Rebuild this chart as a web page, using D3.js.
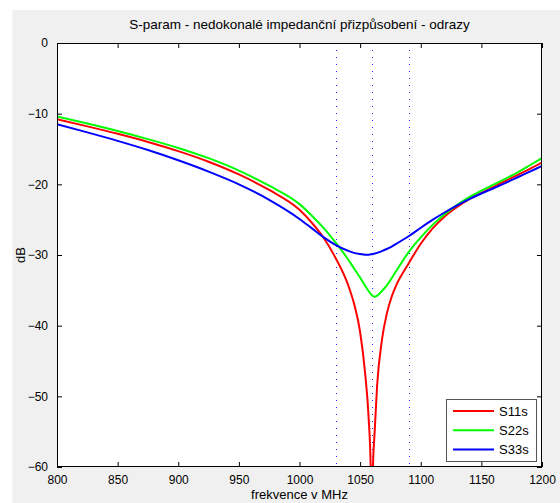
<!DOCTYPE html>
<html>
<head>
<meta charset="utf-8">
<script src="https://cdn.jsdelivr.net/npm/d3@7"></script>
<style>
  html, body { margin: 0; padding: 0; background: #ffffff; }
  svg { display: block; }
  text { font-family: "Liberation Sans", Arial, sans-serif; }
</style>
</head>
<body>
<svg id="chart" width="560" height="503"></svg>
<script>
// ---------- data ----------
const title = "S-param - nedokonalé impedanční přizpůsobení - odrazy";
const xLabel = "frekvence v MHz";
const yLabel = "dB";
const seriesNames = ["S11s", "S22s", "S33s"];
const seriesColors = ["#ff0000", "#00ff00", "#0000ff"];
const xTicks = [800, 850, 900, 950, 1000, 1050, 1100, 1150, 1200];
const yTicks = [0, -10, -20, -30, -40, -50, -60];
const markerFreqs = [1030, 1060, 1090];

const freq = [800, 825, 850, 875, 900, 925, 950, 975, 1000, 1010, 1020, 1030, 1040, 1045, 1050, 1054, 1057, 1058.7, 1059.6, 1060.6, 1062, 1064, 1068, 1072, 1076, 1080, 1090, 1100, 1110, 1120, 1130, 1140, 1150, 1160, 1170, 1180, 1190, 1200];
const s11 = [-10.8, -11.8, -12.85, -14.0, -15.3, -16.8, -18.6, -20.8, -23.6, -25.4, -27.6, -30.5, -34.2, -36.9, -40.9, -46.5, -53.0, -60, -75, -60, -55.0, -48.5, -42.0, -38.3, -35.9, -34.2, -31.2, -28.4, -26.2, -24.5, -23.2, -22.1, -21.2, -20.35, -19.5, -18.65, -17.8, -16.9];
const s22 = [-10.4, -11.4, -12.45, -13.6, -14.85, -16.3, -18.05, -20.2, -22.8, -24.4, -26.2, -28.3, -30.6, -31.9, -33.2, -34.3, -35.1, -35.5, -35.65, -35.8, -35.9, -35.75, -35.1, -34.3, -33.3, -32.2, -29.6, -27.5, -25.7, -24.2, -22.9, -21.8, -20.9, -20.05, -19.2, -18.3, -17.3, -16.3];
const s33 = [-11.5, -12.65, -13.85, -15.15, -16.6, -18.2, -20.0, -22.2, -24.9, -26.2, -27.5, -28.6, -29.4, -29.7, -29.85, -29.95, -29.95, -29.9, -29.88, -29.85, -29.8, -29.7, -29.45, -29.15, -28.8, -28.4, -27.35, -26.15, -25.0, -23.95, -22.98, -22.1, -21.3, -20.55, -19.8, -19.0, -18.2, -17.4];
const seriesValues = [s11, s22, s33];

// ---------- layout ----------
const W = 560, H = 503;
const plot = { left: 57, right: 542, top: 43, bottom: 467 };

const svg = d3.select("#chart");

// figure background
svg.append("rect").attr("x", 12.5).attr("y", 10).attr("width", W - 12.5).attr("height", H - 10).attr("fill", "#f0f0f0");

const x = d3.scaleLinear().domain([800, 1200]).range([plot.left, plot.right]);
const y = d3.scaleLinear().domain([-60, 0]).range([plot.bottom, plot.top]);

// plot area
svg.append("rect").attr("x", plot.left).attr("y", plot.top)
  .attr("width", plot.right - plot.left).attr("height", plot.bottom - plot.top)
  .attr("fill", "#ffffff");

svg.append("defs").append("clipPath").attr("id", "clip")
  .append("rect").attr("x", plot.left).attr("y", plot.top)
  .attr("width", plot.right - plot.left).attr("height", plot.bottom - plot.top);

// marker lines (dotted)
svg.append("g").attr("clip-path", "url(#clip)")
  .selectAll("line").data(markerFreqs).join("line")
  .attr("x1", d => Math.round(x(d)) + 0.5).attr("x2", d => Math.round(x(d)) + 0.5)
  .attr("y1", plot.top).attr("y2", plot.bottom)
  .attr("stroke", "#2020ff").attr("stroke-width", 1)
  .attr("stroke-dasharray", "1,6");

// curves
const line = d3.line().x(d => x(d[0])).y(d => y(d[1])).curve(d3.curveMonotoneX);
svg.append("g").attr("clip-path", "url(#clip)")
  .selectAll("path").data(seriesValues).join("path")
  .attr("d", vals => line(freq.map((f, i) => [f, vals[i]])))
  .attr("fill", "none")
  .attr("stroke", (d, i) => seriesColors[i])
  .attr("stroke-width", 2)
  .attr("stroke-linejoin", "round");

// axes (MATLAB style box, inward ticks)
const tickLen = 5;
const bottomAxis = d3.axisBottom(x).tickValues(xTicks).tickSize(-tickLen).tickPadding(8).tickFormat(d3.format("d"));
const topAxis = d3.axisTop(x).tickValues(xTicks).tickSize(-tickLen).tickFormat("");
const leftAxis = d3.axisLeft(y).tickValues(yTicks).tickSize(-tickLen).tickPadding(9).tickFormat(d3.format("d"));
const rightAxis = d3.axisRight(y).tickValues(yTicks).tickSize(-tickLen).tickFormat("");

function styleAxis(g) {
  g.select(".domain").remove();
  g.selectAll(".tick line").attr("stroke", "#000");
  g.selectAll(".tick text").attr("fill", "#000").style("font-size", "12px").style("font-family", "'Liberation Sans', Arial, sans-serif");
}

svg.append("g").attr("transform", `translate(0,${plot.bottom})`).call(bottomAxis).call(styleAxis);
svg.append("g").attr("transform", `translate(0,${plot.top})`).call(topAxis).call(styleAxis);
svg.append("g").attr("transform", `translate(${plot.left},0)`).call(leftAxis).call(styleAxis);
svg.append("g").attr("transform", `translate(${plot.right},0)`).call(rightAxis).call(styleAxis);

// box
svg.append("rect").attr("x", plot.left + 0.5).attr("y", plot.top + 0.5)
  .attr("width", plot.right - plot.left - 1).attr("height", plot.bottom - plot.top - 1)
  .attr("fill", "none").attr("stroke", "#000").attr("stroke-width", 1);

// title and labels
svg.append("text").attr("x", (plot.left + plot.right) / 2).attr("y", 29)
  .attr("text-anchor", "middle").style("font-size", "13.5px").attr("fill", "#000").text(title);
svg.append("text").attr("x", (plot.left + plot.right) / 2).attr("y", 499)
  .attr("text-anchor", "middle").style("font-size", "13px").attr("fill", "#000").text(xLabel);
svg.append("text").attr("transform", `translate(25,${(plot.top + plot.bottom) / 2}) rotate(-90)`)
  .attr("text-anchor", "middle").style("font-size", "13px").attr("fill", "#000").text(yLabel);

// legend
const lg = { x: 446, y: 399.5, w: 90, h: 62 };
const legend = svg.append("g");
legend.append("rect").attr("x", lg.x + 0.5).attr("y", lg.y).attr("width", lg.w).attr("height", lg.h)
  .attr("fill", "#ffffff").attr("stroke", "#555").attr("stroke-width", 1);
const items = legend.selectAll("g.item").data(seriesNames).join("g").attr("class", "item")
  .attr("transform", (d, i) => `translate(0,${411 + i * 19.3})`);
items.append("line").attr("x1", 453).attr("x2", 494).attr("y1", 0).attr("y2", 0)
  .attr("stroke", (d, i) => seriesColors[i]).attr("stroke-width", 2);
items.append("text").attr("x", 499).attr("y", 4.5).style("font-size", "13px").attr("fill", "#000").text(d => d);
</script>
</body>
</html>
